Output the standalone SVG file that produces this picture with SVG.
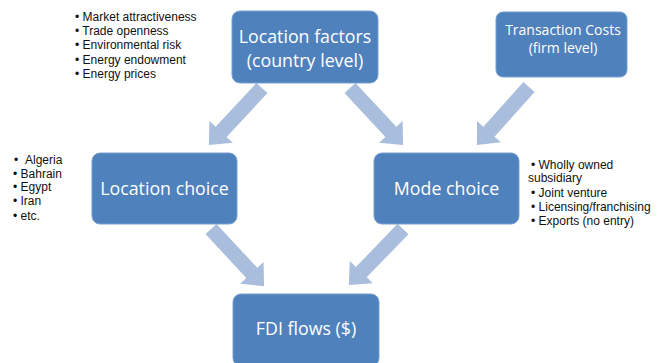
<svg xmlns="http://www.w3.org/2000/svg" width="657" height="363" viewBox="0 0 657 363">
<style>
.box{fill:#4f81bd;stroke:#7a9fd0;stroke-width:1}
.bt{fill:#ffffff;font-family:"Open Sans","Noto Sans",sans-serif;text-anchor:middle}
.big{font-size:17.8px}
.sm{font-size:14px}
.lst{fill:#111111;font-family:"Liberation Sans",Arial,sans-serif;font-size:12px}
.arr{fill:#a9bedc}
</style>
<defs>
<polygon id="ar" points="0,-7.5 60,-7.5 60,-16 78,0 60,16 60,7.5 0,7.5"/>
</defs>
<rect width="657" height="363" fill="#ffffff"/>
<g id="connectors" class="arr">
<use href="#ar" transform="translate(262,88) rotate(132.95)"/>
<use href="#ar" transform="translate(350,88) rotate(47.05)"/>
<use href="#ar" transform="translate(529,87) rotate(131.9)"/>
<use href="#ar" transform="translate(211,229) rotate(47.1)"/>
<use href="#ar" transform="translate(403,229) rotate(134)"/>
</g>
<g id="location-factors">
<rect class="box" x="232" y="11" width="146" height="72" rx="8"/>
<text class="bt big" x="305" y="43">Location factors</text>
<text class="bt big" x="305" y="67">(country level)</text>
</g>
<g id="transaction-costs">
<rect class="box" x="496" y="12" width="131" height="65" rx="7"/>
<text class="bt sm" x="563" y="35">Transaction Costs</text>
<text class="bt sm" x="563" y="53">(firm level)</text>
</g>
<g id="location-choice">
<rect class="box" x="92" y="153" width="145" height="71" rx="8"/>
<text class="bt big" x="164.5" y="195">Location choice</text>
</g>
<g id="mode-choice">
<rect class="box" x="374" y="153" width="145" height="71" rx="8"/>
<text class="bt big" x="446.5" y="195">Mode choice</text>
</g>
<g id="fdi-flows">
<rect class="box" x="233" y="294" width="146" height="72" rx="8"/>
<text class="bt big" x="306" y="335">FDI flows ($)</text>
</g>
<g id="factor-list" class="lst">
<text x="75" y="20.5">• Market attractiveness</text>
<text x="75" y="35">• Trade openness</text>
<text x="75" y="49">• Environmental risk</text>
<text x="75" y="63.5">• Energy endowment</text>
<text x="75" y="78">• Energy prices</text>
</g>
<g id="country-list" class="lst">
<text x="14" y="163.5">•<tspan x="25">Algeria</tspan></text>
<text x="13" y="177.5">• Bahrain</text>
<text x="13" y="191">• Egypt</text>
<text x="13" y="205">• Iran</text>
<text x="13" y="220">• etc.</text>
</g>
<g id="mode-list" class="lst">
<text x="531" y="168.5">• Wholly owned</text>
<text x="528" y="182">subsidiary</text>
<text x="531" y="196.5">• Joint venture</text>
<text x="531" y="210.5">• Licensing/franchising</text>
<text x="531" y="225">• Exports (no entry)</text>
</g>
</svg>
